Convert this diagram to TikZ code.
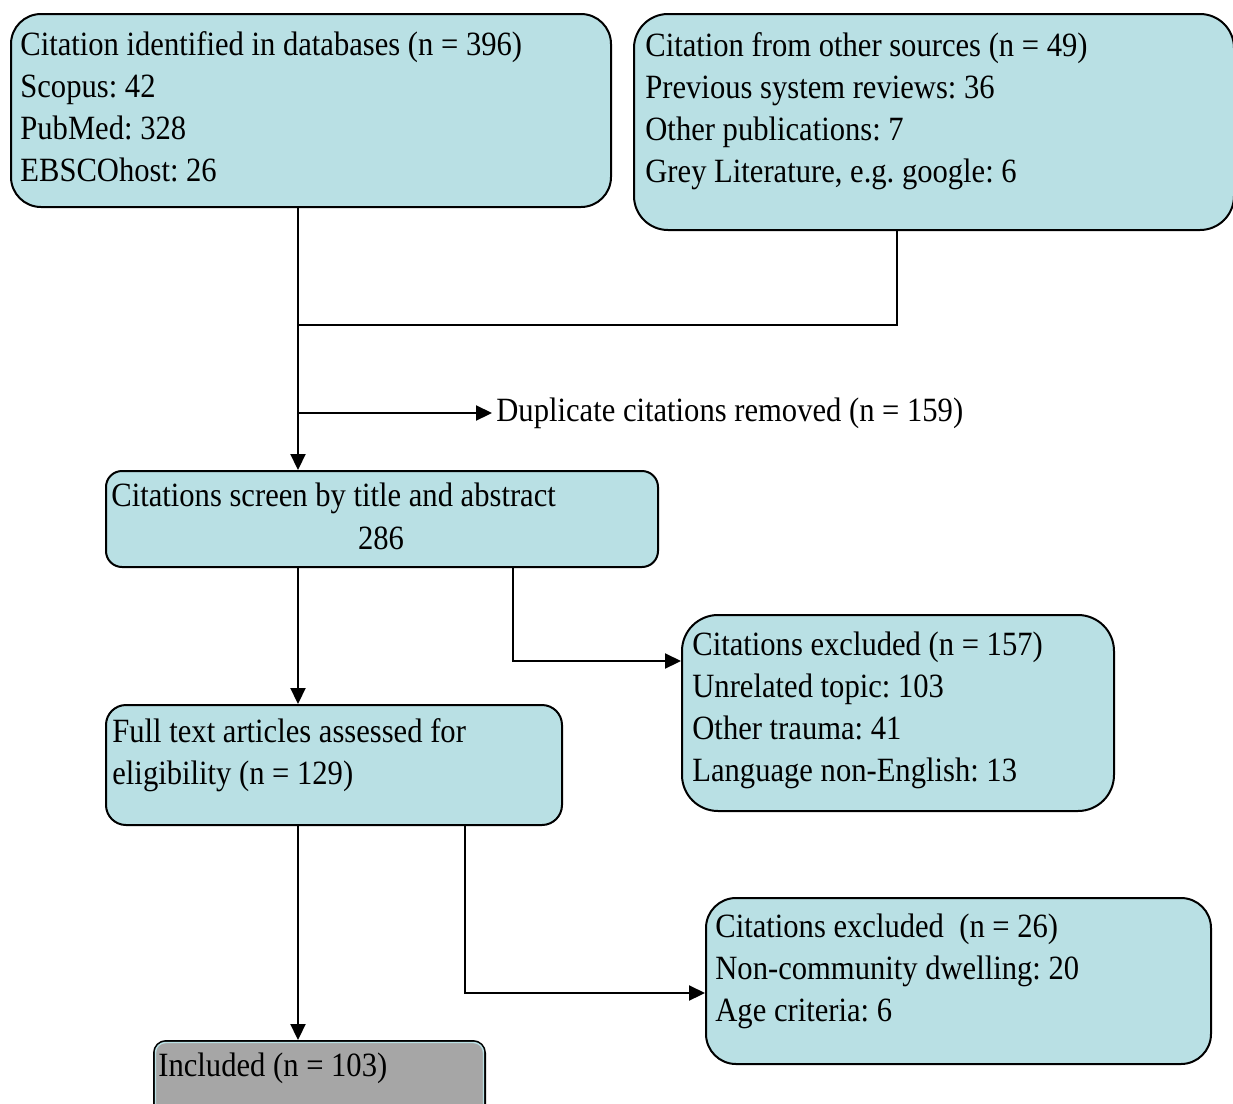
\documentclass[tikz,border=0pt]{standalone}
\usepackage{fontspec}
\setmainfont{Liberation Serif}[FakeStretch=0.9]
\usetikzlibrary{arrows.meta,calc}
\definecolor{boxfill}{RGB}{185,224,228}
\definecolor{incfill}{RGB}{166,166,166}
\frenchspacing

\begin{document}
\begin{tikzpicture}[x=0.5pt,y=-0.5pt,
  box/.style={draw=black, line width=1pt, fill=boxfill, anchor=north west, inner sep=0pt},
  txt/.style={anchor=base west, align=left, inner sep=0pt, font=\fontsize{17pt}{21pt}\selectfont},
  link/.style={line width=1.1pt},
  flow/.style={link, -{Triangle[length=8pt,width=7.5pt]}}]

\useasboundingbox (0,0) rectangle (1233,1104);
\clip (0,0) rectangle (1233,1104);

% boxes
\node[box, rounded corners=15pt, minimum width=300pt, minimum height=96.5pt] (srcdb) at (10,13) {};
\node[box, rounded corners=17pt, minimum width=300pt, minimum height=108pt] (other) at (633,13) {};
\node[box, rounded corners=8pt, minimum width=276pt, minimum height=48pt] (screen) at (105,470) {};
\node[box, rounded corners=10pt, minimum width=228pt, minimum height=60pt] (full) at (105,704) {};
\node[box, rounded corners=18pt, minimum width=216pt, minimum height=98pt] (excl1) at (681,614) {};
\node[box, rounded corners=15pt, minimum width=252.5pt, minimum height=83pt] (excl2) at (705,897) {};
\node[box, fill=incfill, rounded corners=6pt, minimum width=165.5pt, minimum height=50pt] (incl) at (153,1040) {};
\draw[boxfill, line width=0.7pt, rounded corners=5pt]
  ($(incl.north west)+(2.5,2.5)$) rectangle ($(incl.south east)+(-2.5,-2.5)$);

% texts (multi-line blocks are placed by the baseline of their last line)
\node[txt] (srcdbtxt) at (20,181) {Citation identified in databases (n = 396)\\Scopus: 42\\PubMed: 328\\EBSCOhost: 26};
\node[txt] (othertxt) at (645,182) {Citation from other sources (n = 49)\\Previous system reviews: 36\\Other publications: 7\\Grey Literature, e.g. google: 6};
\node[txt] (screentxt) at (111,506) {Citations screen by title and abstract};
\node[txt, anchor=base] (screennum) at (381,549) {286};
\node[txt] (fulltxt) at (112,784) {Full text articles assessed for\\eligibility (n = 129)};
\node[txt] (excl1txt) at (692,781) {Citations excluded (n = 157)\\Unrelated topic: 103\\Other trauma: 41\\Language non-English: 13};
\node[txt] (excl2txt) at (715,1021) {Citations excluded~ (n = 26)\\Non-community dwelling: 20\\Age criteria: 6};
\node[txt] (incltxt) at (158,1076) {Included (n = 103)};
\node[txt, anchor=west, inner sep=2pt] (dup) at (492,413) {Duplicate citations removed (n = 159)};

% routing coordinates
\coordinate (tx) at (298,0);
\coordinate (ox) at (897,0);
\coordinate (join) at (298,325);
\coordinate (dupfork) at (298,413);
\coordinate (e1x) at (513,661);
\coordinate (e2x) at (465,993);

% connectors
\draw[flow] (srcdb.south -| tx) -- (screen.north -| tx);
\draw[link] (other.south -| ox) |- (join);
\draw[flow] (dupfork) -- (dup.west);
\draw[flow] (screen.south -| tx) -- (full.north -| tx);
\draw[flow] (screen.south -| e1x) |- (excl1.west |- e1x);
\draw[flow] (full.south -| tx) -- (incl.north -| tx);
\draw[flow] (full.south -| e2x) |- (excl2.west |- e2x);
\end{tikzpicture}
\end{document}
